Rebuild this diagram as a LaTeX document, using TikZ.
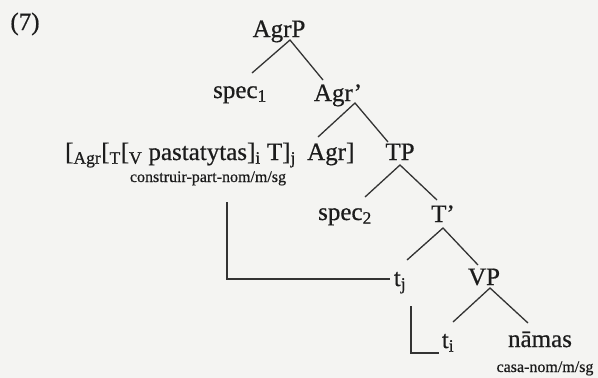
\documentclass[tikz,border=0pt]{standalone}
\usepackage{fontspec}
\setmainfont[FakeBold=0.6,BoldFont={Liberation Serif}]{Liberation Serif}
\definecolor{ink}{HTML}{1C1C1C}
\definecolor{paper}{HTML}{F4F4F2}
\newcommand\subx[1]{\textsubscript{#1}}
\begin{document}
\begin{tikzpicture}[x=1pt,y=-1pt,
  lbl/.style={font=\fontsize{25}{28}\selectfont\bfseries, text=ink, inner sep=0pt, anchor=base},
  gls/.style={font=\fontsize{16}{18}\selectfont\bfseries, text=ink, inner sep=0pt, anchor=base},
  edge/.style={draw=ink!90, line width=1.3pt},
]
\fill[paper] (0,0) rectangle (598,378);
\useasboundingbox (0,0) rectangle (598,378);

\node[lbl] (ex) at (25,30) {(7)};
\node[lbl] (agrp) at (279,37) {AgrP};
\node[lbl] (spec1) at (240,98) {spec\subx{1}};
\node[lbl] (agrbar) at (338,101) {Agr'};
\node[lbl, anchor=base west] (brk) at (65,160) {[\subx{Agr}[\subx{T}[\subx{V} pastatytas]\subx{i} T]\subx{j}};
\node[lbl, anchor=base west] (agrhd) at (307,160) {Agr]};
\node[gls] (gloss) at (208,182) {construir-part-nom/m/sg};
\node[lbl] (tp) at (400,160) {TP};
\node[lbl] (spec2) at (345,220) {spec\subx{2}};
\node[lbl] (tbar) at (443,222) {T'};
\node[lbl] (tj) at (400,286) {t\subx{j}};
\node[lbl] (vp) at (484,285) {VP};
\node[lbl] (ti) at (448,348) {t\subx{i}};
\node[lbl] (namas) at (540,347) {nāmas};
\node[gls] (casa) at (545,372) {casa-nom/m/sg};

% branch points and branch ends
\coordinate (agrp-v) at (290,40);
\coordinate (spec1-t) at (252,73);
\coordinate (agrbar-t) at (323,80);
\coordinate (agrbar-v) at (355,103);
\coordinate (agrhd-t) at (318,137);
\coordinate (tp-t) at (388,142);
\coordinate (tp-v) at (400,165);
\coordinate (spec2-t) at (365,197);
\coordinate (tbar-t) at (437,200);
\coordinate (tbar-v) at (443,228);
\coordinate (tj-t) at (407,260);
\coordinate (vp-t) at (478,265);
\coordinate (vp-v) at (490,288);
\coordinate (ti-t) at (453,322);
\coordinate (namas-t) at (528,323);
\coordinate (mv1-s) at (227,202);
\coordinate (mv2-s) at (411,306);

\draw[edge] (spec1-t) -- (agrp-v) -- (agrbar-t);
\draw[edge] (agrhd-t) -- (agrbar-v) -- (tp-t);
\draw[edge] (spec2-t) -- (tp-v) -- (tbar-t);
\draw[edge] (tj-t) -- (tbar-v) -- (vp-t);
\draw[edge] (ti-t) -- (vp-v) -- (namas-t);

% movement lines
\draw[edge] (mv1-s) -- (227,279) -- ([xshift=-4pt]tj.west |- 0,279);
\draw[edge] (mv2-s) -- (411,353) -- ([xshift=-3pt]ti.west |- 0,353);
\end{tikzpicture}
\end{document}
